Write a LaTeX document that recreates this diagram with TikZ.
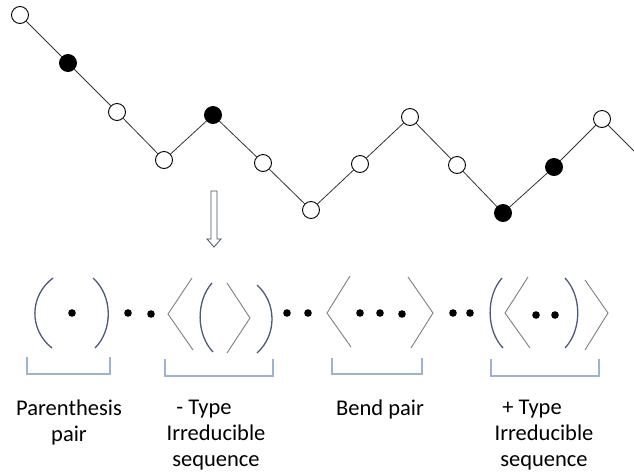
\documentclass[tikz,border=0pt]{standalone}
\usepackage{fontspec}
\setmainfont{Carlito}
\definecolor{parencol}{HTML}{4A5A78}
\definecolor{anglecol}{HTML}{7F7F7F}
\definecolor{bracecol}{HTML}{9DB3CF}
\definecolor{arrowcol}{HTML}{44546A}
\begin{document}
\begin{tikzpicture}[x=1pt,y=-1pt,
  vtx/.style={circle,draw=black,line width=0.9pt,minimum size=17pt,inner sep=0pt},
  wvtx/.style={vtx,fill=white},
  bvtx/.style={vtx,fill=black},
  link/.style={draw=black!80,line width=0.8pt},
  parenline/.style={draw=parencol,line width=1.3pt},
  angleline/.style={draw=anglecol,line width=0.9pt},
  bracket/.style={draw=bracecol,line width=1.2pt},
  lbl/.style={font=\fontsize{22.5}{26}\selectfont,align=center,anchor=north,inner sep=0pt},
  dotmark/.style={fill=black}]
\useasboundingbox (0,0) rectangle (634,472);
% chain
\node[wvtx] (v1) at (20,15) {};
\node[bvtx] (v2) at (68,63) {};
\node[wvtx] (v3) at (117,112) {};
\node[wvtx] (v4) at (164,160) {};
\node[bvtx] (v5) at (213,115) {};
\node[wvtx] (v6) at (263,163) {};
\node[wvtx] (v7) at (311,210) {};
\node[wvtx] (v8) at (360,164) {};
\node[wvtx] (v9) at (410,117) {};
\node[wvtx] (v10) at (457,165) {};
\node[bvtx] (v11) at (503,213) {};
\node[bvtx] (v12) at (554,167) {};
\node[wvtx] (v13) at (602,119) {};
\coordinate (vend) at (638,155);
\draw[link] (v1) -- (v2);
\draw[link] (v2) -- (v3);
\draw[link] (v3) -- (v4);
\draw[link] (v4) -- (v5);
\draw[link] (v5) -- (v6);
\draw[link] (v6) -- (v7);
\draw[link] (v7) -- (v8);
\draw[link] (v8) -- (v9);
\draw[link] (v9) -- (v10);
\draw[link] (v10) -- (v11);
\draw[link] (v11) -- (v12);
\draw[link] (v12) -- (v13);
\draw[link] (v13) -- (vend);
% hollow down arrow
\draw[draw=arrowcol,fill=white,line width=0.8pt,line join=miter]
  (211,191) -- (217,191) -- (217,239) -- (221,239) -- (214,247) -- (207,239) -- (211,239) -- cycle;
% group 1: parenthesis pair
\draw[parenline] (53,278) .. controls (29,296) and (29,330) .. (52,348);
\draw[parenline] (93,278) .. controls (113,296) and (113,330) .. (95,348);
\fill[dotmark] (72,313) circle (3.8);
\fill[dotmark] (128,313) circle (3.8);
\fill[dotmark] (151,314) circle (3.8);
% group 2
\draw[angleline] (192,278) -- (168,314) -- (193,350);
\draw[parenline] (212,283) .. controls (196,301) and (196,334) .. (213,352);
\draw[angleline] (227,283) -- (250,318) -- (227,353);
\draw[parenline] (257,285) .. controls (277,303) and (277,335) .. (257,353);
\fill[dotmark] (287,313) circle (3.8);
\fill[dotmark] (308,313) circle (3.8);
% group 3: bend pair
\draw[angleline] (350,276) -- (327,313) -- (351,347);
\fill[dotmark] (360,313) circle (3.8);
\fill[dotmark] (380,313) circle (3.8);
\fill[dotmark] (402,314) circle (3.8);
\draw[angleline] (408,277) -- (433,313) -- (411,348);
\fill[dotmark] (453,313) circle (3.8);
\fill[dotmark] (470,313) circle (3.8);
% group 4
\draw[parenline] (502,278) .. controls (486,296) and (486,330) .. (503,348);
\draw[angleline] (528,277) -- (505,313) -- (530,348);
\fill[dotmark] (536,315) circle (3.8);
\fill[dotmark] (555,315) circle (3.8);
\draw[parenline] (565,278) .. controls (582,296) and (582,330) .. (565,348);
\draw[angleline] (585,280) -- (608,313) -- (585,350);
% brackets
\draw[bracket] (27,357) -- (27,374) -- (110,374) -- (110,357);
\draw[bracket] (165,359) -- (165,376) -- (273,376) -- (273,359);
\draw[bracket] (332,358) -- (332,374) -- (422,374) -- (422,358);
\draw[bracket] (491,359) -- (491,376) -- (599,376) -- (599,359);
% labels
\node[lbl] (l1) at (69,400) {Parenthesis\\pair};
\node[lbl] (l2) at (216,400) {- Type\hspace*{24pt}\\Irreducible\\sequence};
\node[lbl] (l3) at (380,400) {Bend pair};
\node[lbl] (l4) at (544,400) {+ Type\hspace*{24pt}\\Irreducible\\sequence};
\end{tikzpicture}
\end{document}
